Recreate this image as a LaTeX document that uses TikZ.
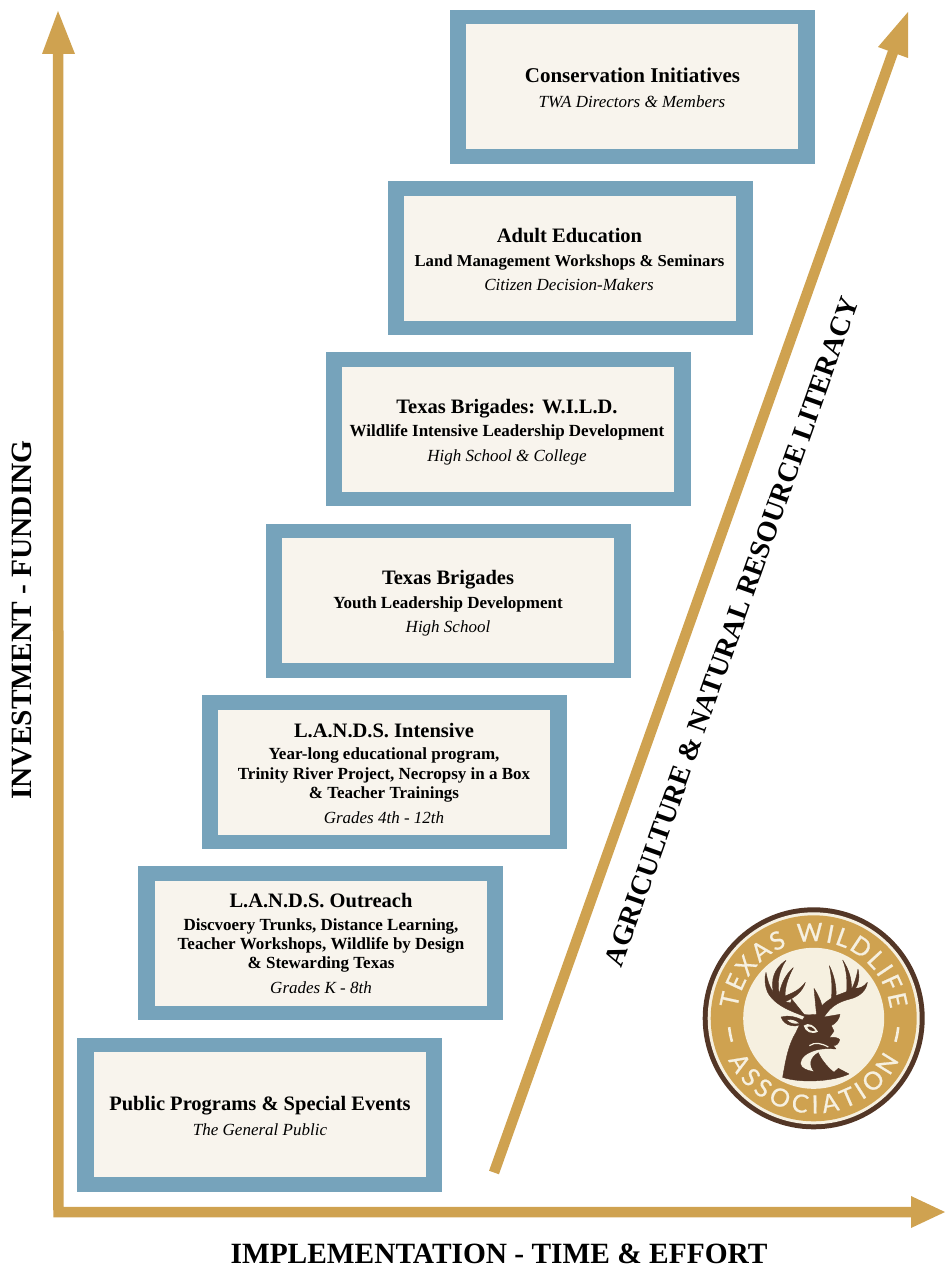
\documentclass[tikz,border=0pt]{standalone}
\usepackage{fontspec}
\usetikzlibrary{decorations.text}
\setmainfont{Liberation Serif}
\newfontfamily\logofont[RawFeature={embolden=0.7}]{Lato}
\definecolor{gold}{HTML}{CFA250}
\definecolor{steel}{HTML}{76A3BB}
\definecolor{paper}{HTML}{F8F4ED}
\definecolor{logocream}{HTML}{F6F0E0}
\definecolor{deer}{HTML}{533626}
\tikzset{x=1pt,y=-1pt,
  stair/.style={fill=steel,minimum width=365pt,minimum height=154pt,inner sep=0pt},
  stairin/.style={fill=paper,minimum width=332pt,minimum height=125pt,inner sep=0pt},
  ttl/.style={font=\fontsize{20.5}{20.5}\selectfont\bfseries,anchor=base,inner sep=0pt},
  subt/.style={font=\fontsize{17}{17}\selectfont\bfseries,anchor=base,inner sep=0pt},
  aud/.style={font=\fontsize{17}{17}\selectfont\itshape,anchor=base,inner sep=0pt},
  axislbl/.style={font=\fontsize{29.4}{29.4}\selectfont\bfseries,anchor=base,inner sep=0pt},
  axisline/.style={draw=gold,line width=10.5pt},
  axishead/.style={fill=gold,draw=none},
  deerfill/.style={fill=deer,draw=deer,line width=0.4pt,line join=round},
}
\begin{document}
\begin{tikzpicture}
\useasboundingbox (0,0) rectangle (945,1265);
% stairs
\node[stair] (s1) at (259.5,1115) {};
\node[stairin] (i1) at (260,1114.5) {};
\node[stair] (s2) at (320.5,943) {};
\node[stairin] (i2) at (321,943.5) {};
\node[stair] (s3) at (384.5,772) {};
\node[stairin] (i3) at (384,772.5) {};
\node[stair] (s4) at (448.5,601) {};
\node[stairin] (i4) at (448,600.5) {};
\node[stair] (s5) at (508.5,429) {};
\node[stairin] (i5) at (508,429.5) {};
\node[stair] (s6) at (570.5,258) {};
\node[stairin] (i6) at (570,258.5) {};
\node[stair] (s7) at (632.5,87) {};
\node[stairin] (i7) at (632,86.5) {};
% texts
\node[ttl] (t1a) at (260,1110) {Public Programs \& Special Events};
\node[aud] (t1b) at (260,1135) {The General Public};
\node[ttl] (t2a) at (321,907) {L.A.N.D.S. Outreach};
\node[subt] (t2b) at (321,930) {Discvoery Trunks, Distance Learning,};
\node[subt] (t2c) at (321,949) {Teacher Workshops, Wildlife by Design};
\node[subt] (t2d) at (321,968) {\& Stewarding Texas};
\node[aud] (t2e) at (321,993) {Grades K - 8th};
\node[ttl] (t3a) at (384,737) {L.A.N.D.S. Intensive};
\node[subt] (t3b) at (384,759) {Year-long educational program,};
\node[subt] (t3c) at (384,779) {Trinity River Project, Necropsy in a Box};
\node[subt] (t3d) at (384,798) {\& Teacher Trainings};
\node[aud] (t3e) at (384,823) {Grades 4th - 12th};
\node[ttl] (t4a) at (448,584) {Texas Brigades};
\node[subt] (t4b) at (448,608) {Youth Leadership Development};
\node[aud] (t4c) at (448,632) {High School};
\node[ttl] (t5a) at (507,413) {Texas Brigades: W.I.L.D.};
\node[subt] (t5b) at (507,436) {Wildlife Intensive Leadership Development};
\node[aud] (t5c) at (507,461) {High School \& College};
\node[ttl] (t6a) at (569.5,243) {Adult Education};
\node[subt,font=\fontsize{16.7}{16.7}\selectfont\bfseries] (t6b) at (569.5,266) {Land Management Workshops \& Seminars};
\node[aud] (t6c) at (569,290) {Citizen Decision-Makers};
\node[ttl,font=\fontsize{21}{21}\selectfont\bfseries] (t7a) at (632.5,83) {Conservation Initiatives};
\node[aud] (t7b) at (632,107.5) {TWA Directors \& Members};
% axes
\coordinate (origin) at (58.5,1212);
\coordinate (ytip) at (58,54);
\coordinate (xtip) at (915,1212);
\coordinate (dstart) at (494,1172.5);
\coordinate (dtip) at (893,52);
\draw[axisline,line join=miter] (ytip) -- (origin) -- (xtip);
\draw[axisline] (dstart) -- (dtip);
\fill[axishead] (58,11) -- (75,54) -- (42,54) -- cycle;
\fill[axishead] (945,1212) -- (911,1228) -- (911,1196) -- cycle;
\fill[axishead] (908,12) -- (908,58) -- (878,47) -- cycle;
% axis labels
\node[axislbl,rotate=90] (ylab) at (31,620) {INVESTMENT - FUNDING};
\node[axislbl] (xlab) at (499,1263) {IMPLEMENTATION - TIME \& EFFORT};
\node[axislbl,font=\fontsize{28.4}{28.4}\selectfont\bfseries,rotate=70.4] (dlab) at (740.5,634.5) {AGRICULTURE \& NATURAL RESOURCE LITERACY};
% logo
\begin{scope}[shift={(813.7,1018.3)}]
\begin{scope}[y=1pt]
\fill[deer] (0,0) circle[radius=111];
\fill[logocream] (0,0) circle[radius=106];
\fill[gold] (0,0) circle[radius=103];
\fill[logocream] (0,0) circle[radius=70.5];
\path[decorate,decoration={text along path,text align={fit to path},
  text={|\logofont\fontsize{25}{25}\selectfont\color{logocream}|TEXAS WILDLIFE}}]
  (173:77) arc[start angle=173,end angle=7,radius=77];
\path[decorate,decoration={text along path,text align={fit to path},
  text={|\logofont\fontsize{25}{25}\selectfont\color{logocream}|ASSOCIATION}}]
  (-154:95) arc[start angle=-154,end angle=-26,radius=95];
\draw[logocream,line width=2.6pt] (196:85) arc[start angle=196,end angle=186,radius=85];
\draw[logocream,line width=2.6pt] (-16:85) arc[start angle=-16,end angle=-6,radius=85];
\end{scope}
\end{scope}
\begin{scope}[shift={(690,895)},x=0.3333pt,y=-0.3333pt]
% head, neck and shoulder
\path[deerfill] (278,547) .. controls (288,490) and (295,450) .. (318,412)
 .. controls (330,385) and (340,370) .. (348,360)
 -- (385,358) -- (402,366) -- (450,358) .. controls (448,372) and (438,385) .. (424,392)
 -- (432,408) -- (418,428) .. controls (430,425) and (445,428) .. (449,434)
 .. controls (447,445) and (440,452) .. (430,452)
 -- (438,462) .. controls (410,460) and (385,460) .. (360,472)
 .. controls (335,482) and (325,505) .. (335,515)
 .. controls (345,525) and (360,528) .. (373,530)
 .. controls (355,510) and (360,488) .. (385,473)
 .. controls (392,490) and (410,515) .. (432,532)
 -- (445,520) -- (477,537)
 .. controls (430,560) and (330,565) .. (278,547) -- cycle;
% mouth line
\draw[logocream,line width=1.2pt] (358,452) .. controls (375,440) and (395,445) .. (415,456);
% eye
\fill[logocream] (341,392) .. controls (355,380) and (375,392) .. (384,410)
 .. controls (365,420) and (345,410) .. (341,392) -- cycle;
\fill[deer] (352,396) .. controls (360,392) and (370,398) .. (376,407)
 .. controls (365,410) and (355,405) .. (352,396) -- cycle;
% left ear
\path[deerfill] (273,366) .. controls (295,360) and (320,365) .. (342,378)
 .. controls (335,390) and (320,395) .. (305,392) .. controls (290,390) and (278,380) .. (273,366) -- cycle;
\fill[logocream] (292,375) .. controls (305,372) and (318,377) .. (327,385) .. controls (312,388) and (300,384) .. (292,375) -- cycle;
% left antler
\path[deerfill] (352,368) .. controls (310,350) and (255,335) .. (232,290)
 .. controls (225,272) and (222,250) .. (228,232)
 .. controls (232,255) and (238,275) .. (250,292)
 .. controls (243,255) and (250,222) .. (288,196)
 .. controls (268,225) and (260,262) .. (268,298)
 .. controls (272,270) and (285,240) .. (310,218)
 .. controls (295,245) and (285,275) .. (285,303)
 .. controls (305,295) and (330,285) .. (346,262)
 .. controls (338,290) and (315,308) .. (285,320)
 -- (302,324) -- (305,312) -- (342,358) -- (360,362) -- cycle;
% right antler
\path[deerfill] (380,362) -- (372,280) .. controls (382,295) and (392,315) .. (396,332)
 .. controls (405,322) and (412,318) .. (424,310)
 .. controls (428,280) and (425,245) .. (418,212)
 .. controls (432,240) and (440,275) .. (438,302)
 -- (470,290) .. controls (472,255) and (470,225) .. (458,195)
 .. controls (478,225) and (486,255) .. (484,284)
 .. controls (492,270) and (500,245) .. (504,222)
 .. controls (510,245) and (505,270) .. (496,280)
 .. controls (510,280) and (522,275) .. (532,262)
 .. controls (530,285) and (510,305) .. (480,312)
 .. controls (450,320) and (425,330) .. (402,366) -- cycle;
\end{scope}
\end{tikzpicture}
\end{document}
